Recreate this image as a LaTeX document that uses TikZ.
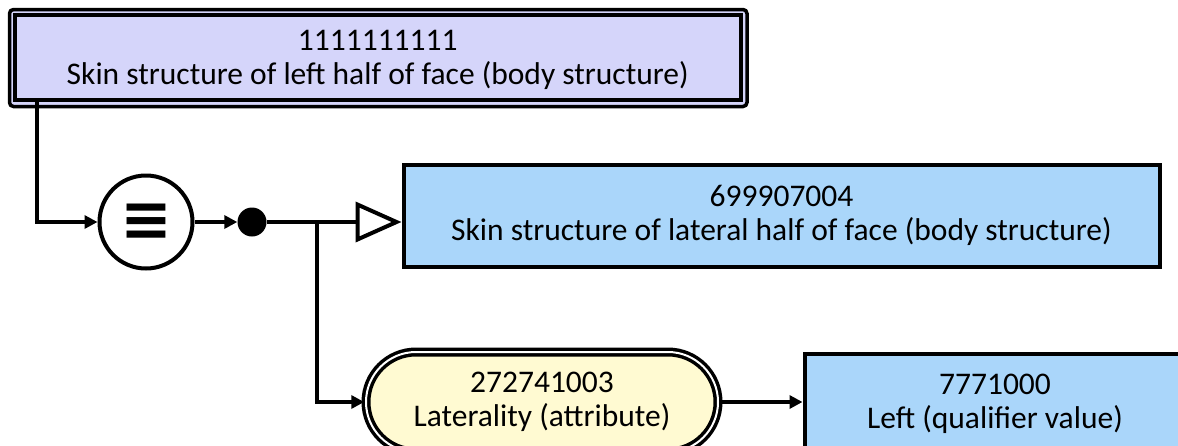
\documentclass[tikz,border=0pt]{standalone}
\usepackage{fontspec}
\setmainfont{Carlito}
\newfontfamily\symfont{DejaVu Sans}
\usetikzlibrary{arrows.meta,shapes.misc,calc}
\definecolor{lav}{RGB}{213,213,250}
\definecolor{skyb}{RGB}{170,214,250}
\definecolor{pale}{RGB}{255,250,210}
\begin{document}
\begin{tikzpicture}[x=1pt,y=-1pt,
  every node/.style={font=\fontsize{31.5}{34}\selectfont, align=center, inner sep=0pt},
  concept/.style={draw, line width=4pt, fill=skyb, rectangle},
  conn/.style={line width=4pt, -{Triangle[length=13pt,width=13pt]}},
]
\clip (0,0) rectangle (1178,445);
\fill[white] (0,0) rectangle (1178,445);
% outer frame of the double-bordered top box
\draw[line width=3.5pt, rounded corners=4pt, fill=lav] (9.5,9.5) rectangle (747,106.5);
\node[concept, fill=lav, line width=4pt, minimum width=725.5pt, minimum height=85pt, text depth=-6pt] (top) at (377.75,57.5) {1111111111\\Skin structure of left half of face (body structure)};
\node[draw, circle, line width=4pt, minimum size=93pt, fill=white] (eq) at (146,222) {\symfont\bfseries\fontsize{62}{62}\selectfont ≡};
\node[circle, fill=black, minimum size=29pt] (dot) at (252,222) {};
\node[concept, minimum width=756pt, minimum height=102pt] (b2) at (781.5,215.5) {699907004\\Skin structure of lateral half of face (body structure)};
\node[rounded rectangle, draw, line width=3.5pt, double=white, double distance=2pt, fill=pale, minimum width=352pt, minimum height=100pt] (attr) at (542,402) {272741003\\Laterality (attribute)};
\node[concept, minimum width=381pt, minimum height=101pt] (b3) at (995,404) {7771000\\Left (qualifier value)};
\draw[conn] ([xshift=24pt]top.south west) |- (eq.west);
\draw[conn] (eq.east) -- (dot.west);
\draw[line width=4pt, -{Triangle[open,length=46pt,width=40pt]}] (dot.east) -- (dot.east -| b2.west);
\coordinate (br) at (317,222);
\draw[conn] (br) |- (attr.west);
\draw[conn] (attr.east) -- (attr.east -| b3.west);
\end{tikzpicture}
\end{document}
